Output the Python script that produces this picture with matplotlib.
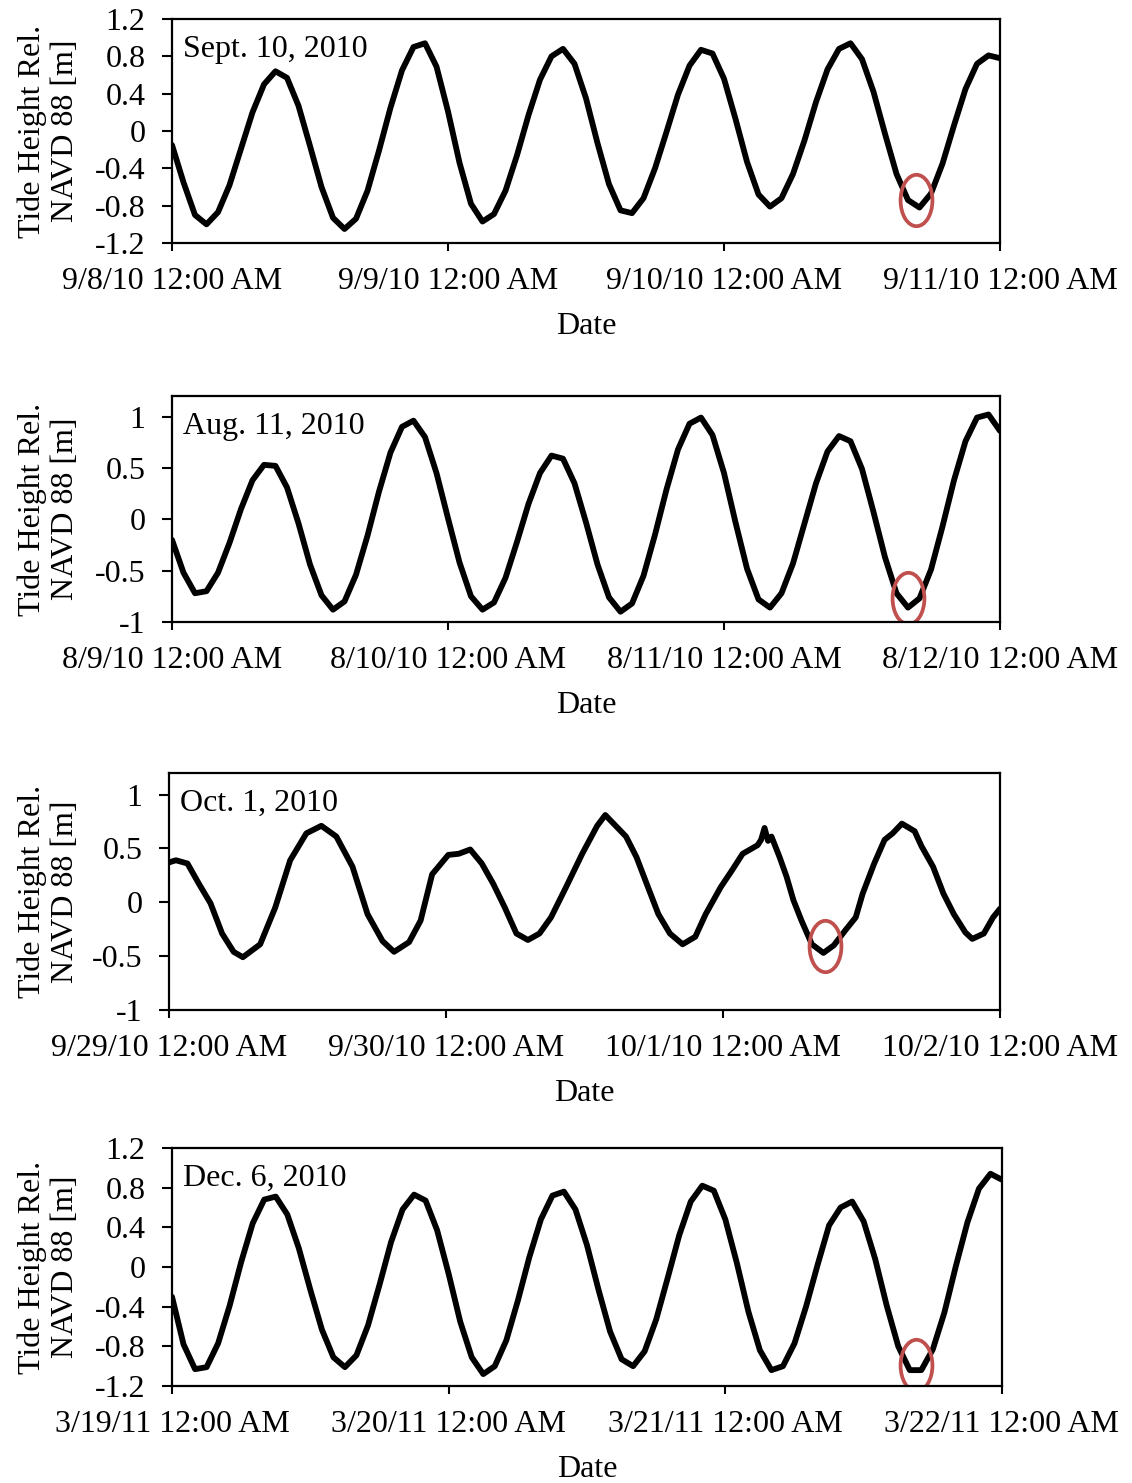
import numpy as np
import matplotlib
matplotlib.use('Agg')
import matplotlib.pyplot as plt
from matplotlib.path import Path
from matplotlib.transforms import Affine2D, blended_transform_factory

plt.rcParams['font.family'] = ['Liberation Serif', 'DejaVu Serif']
plt.rcParams['font.size'] = 23

# hourly tide readings (m, NAVD 88), three days per panel
hours = np.arange(73)

sep_level = [-0.15, -0.55, -0.90, -1.00, -0.87, -0.58, -0.19, 0.20, 0.50, 0.64,
             0.57, 0.27, -0.16, -0.60, -0.93, -1.05, -0.94, -0.64, -0.21, 0.25,
             0.65, 0.90, 0.94, 0.69, 0.21, -0.34, -0.78, -0.97, -0.89, -0.64,
             -0.26, 0.17, 0.55, 0.80, 0.88, 0.72, 0.35, -0.13, -0.57, -0.85,
             -0.88, -0.72, -0.40, -0.01, 0.39, 0.70, 0.87, 0.83, 0.56, 0.13,
             -0.33, -0.68, -0.81, -0.72, -0.46, -0.10, 0.31, 0.66, 0.88, 0.94,
             0.77, 0.42, -0.03, -0.46, -0.74, -0.82, -0.67, -0.35, 0.06, 0.45,
             0.72, 0.81, 0.78]

aug_level = [-0.20, -0.52, -0.72, -0.70, -0.52, -0.23, 0.10, 0.38, 0.53, 0.52,
             0.31, -0.04, -0.44, -0.74, -0.88, -0.80, -0.54, -0.16, 0.27, 0.65,
             0.90, 0.96, 0.80, 0.45, 0.01, -0.42, -0.75, -0.88, -0.81, -0.57,
             -0.22, 0.15, 0.45, 0.62, 0.59, 0.35, -0.03, -0.44, -0.76, -0.90,
             -0.82, -0.55, -0.15, 0.29, 0.68, 0.93, 0.99, 0.82, 0.45, -0.03,
             -0.48, -0.78, -0.86, -0.72, -0.43, -0.04, 0.35, 0.66, 0.81, 0.76,
             0.49, 0.07, -0.37, -0.72, -0.86, -0.77, -0.49, -0.07, 0.38, 0.76,
             0.99, 1.02, 0.86]

# October record is noisier, read at irregular times
oct_hours = [0, 0.6, 1.6, 2.6, 3.6, 4.6, 5.6, 6.4, 7.9, 9.2, 10.5, 11.9, 13.2,
             14.5, 15.9, 17.2, 18.5, 19.5, 20.8, 21.8, 22.8, 24.2, 25.1, 26.1,
             27.1, 28.1, 29.1, 30.1, 31.1, 32.1, 33.1, 34.4, 35.8, 37.1, 37.8,
             39.6, 40.5, 41.5, 42.4, 43.4, 44.5, 45.6, 46.5, 47.8, 48.8, 49.7,
             51.0, 51.3, 51.6, 51.9, 52.2, 52.9, 53.5, 54.1, 54.8, 55.7, 56.7,
             57.6, 58.6, 59.5, 60.1, 61.1, 62.0, 62.7, 63.5, 64.6, 65.2, 66.2,
             67.1, 68.0, 69.0, 69.6, 70.6, 71.4, 72]
oct_level = [0.37, 0.39, 0.36, 0.17, -0.01, -0.29, -0.46, -0.51, -0.39, -0.05,
             0.39, 0.64, 0.71, 0.61, 0.33, -0.11, -0.36, -0.46, -0.37, -0.17,
             0.26, 0.44, 0.45, 0.49, 0.36, 0.17, -0.05, -0.29, -0.35, -0.29,
             -0.14, 0.14, 0.45, 0.71, 0.81, 0.61, 0.42, 0.14, -0.11, -0.29,
             -0.39, -0.32, -0.11, 0.14, 0.30, 0.45, 0.53, 0.58, 0.69, 0.57,
             0.61, 0.42, 0.24, 0.02, -0.17, -0.39, -0.47, -0.40, -0.26, -0.14,
             0.08, 0.36, 0.58, 0.64, 0.73, 0.66, 0.52, 0.33, 0.08, -0.11,
             -0.28, -0.34, -0.29, -0.14, -0.06]

dec_level = [-0.30, -0.78, -1.03, -1.01, -0.77, -0.39, 0.05, 0.44, 0.68, 0.71,
             0.53, 0.19, -0.23, -0.63, -0.91, -1.01, -0.89, -0.59, -0.18, 0.25,
             0.58, 0.73, 0.67, 0.37, -0.07, -0.55, -0.91, -1.08, -1.00, -0.74,
             -0.34, 0.10, 0.48, 0.72, 0.76, 0.58, 0.22, -0.23, -0.65, -0.93,
             -1.00, -0.85, -0.53, -0.11, 0.32, 0.66, 0.82, 0.77, 0.48, 0.04,
             -0.45, -0.84, -1.04, -1.00, -0.77, -0.40, 0.02, 0.42, 0.60, 0.66,
             0.46, 0.08, -0.39, -0.80, -1.04, -1.04, -0.83, -0.46, 0.01, 0.45,
             0.79, 0.94, 0.88]

panel_titles = ['Sept. 10, 2010', 'Aug. 11, 2010', 'Oct. 1, 2010', 'Dec. 6, 2010']
sep_dates = ['9/8/10 12:00 AM', '9/9/10 12:00 AM', '9/10/10 12:00 AM', '9/11/10 12:00 AM']
aug_dates = ['8/9/10 12:00 AM', '8/10/10 12:00 AM', '8/11/10 12:00 AM', '8/12/10 12:00 AM']
oct_dates = ['9/29/10 12:00 AM', '9/30/10 12:00 AM', '10/1/10 12:00 AM', '10/2/10 12:00 AM']
dec_dates = ['3/19/11 12:00 AM', '3/20/11 12:00 AM', '3/21/11 12:00 AM', '3/22/11 12:00 AM']
day_ticks = [0, 24, 48, 72]

ticks_a = [-1.2, -0.8, -0.4, 0, 0.4, 0.8, 1.2]
labels_a = ['-1.2', '-0.8', '-0.4', '0', '0.4', '0.8', '1.2']
ticks_b = [-1, -0.5, 0, 0.5, 1]
labels_b = ['-1', '-0.5', '0', '0.5', '1']

# circled low tide in each panel (hour, level)
circle_hour = [64.7, 64.0, 56.8, 64.5]
circle_level = [-0.74, -0.77, -0.41, -0.985]

panels = [
    (hours, sep_level, sep_dates, ticks_a, labels_a, (-1.2, 1.2)),
    (hours, aug_level, aug_dates, ticks_b, labels_b, (-1.0, 1.2)),
    (oct_hours, oct_level, oct_dates, ticks_b, labels_b, (-1.0, 1.2)),
    (hours, dec_level, dec_dates, ticks_a, labels_a, (-1.2, 1.2)),
]

W, H = 1132, 1483
fig = plt.figure(figsize=(W / 100, H / 100), dpi=100)

# axes boxes in pixels: left, top, right, bottom
boxes = [(172, 19, 1000, 243), (172, 396, 1000, 622),
         (169, 773, 1000, 1010), (172, 1148, 1002, 1386)]

ell = Path.unit_circle().transformed(Affine2D().scale(0.62, 1.0))

for i, (x, y, dlabels, yt, yl, ylim) in enumerate(panels):
    l, t, r, b = boxes[i]
    ax = fig.add_axes([l / W, 1 - b / H, (r - l) / W, (b - t) / H])
    ax.plot(x, y, color='k', lw=4.2, solid_joinstyle='round', solid_capstyle='round')
    ax.plot(circle_hour[i], circle_level[i], marker=ell, ms=37, mfc='none',
            mec='#C0504D', mew=2.7, ls='none')
    ax.set_xlim(0, 72)
    ax.set_ylim(*ylim)
    ax.set_xticks(day_ticks)
    ax.set_xticklabels(dlabels)
    ax.set_yticks(yt)
    ax.set_yticklabels(yl)
    ax.tick_params(axis='x', direction='out', length=6, width=1.5, pad=11)
    ax.tick_params(axis='y', direction='out', length=7, width=1.5, pad=12)
    for s in ax.spines.values():
        s.set_linewidth(1.6)
    ax.set_xlabel('Date', labelpad=12)
    ax.set_ylabel('Tide Height Rel.\nNAVD 88 [m]', linespacing=1.2)
    ax.yaxis.set_label_coords(80 / W, 0.5,
                              transform=blended_transform_factory(fig.transFigure, ax.transAxes))
    ax.annotate(panel_titles[i], xy=(0, 1), xycoords='axes fraction',
                xytext=(8, -22), textcoords='offset points', va='center', ha='left')

fig.savefig('out.png', dpi=100)
